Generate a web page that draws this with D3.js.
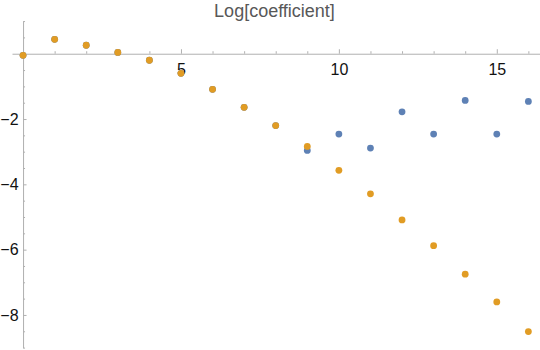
<!DOCTYPE html>
<html>
<head>
<meta charset="utf-8">
<script src="https://cdn.jsdelivr.net/npm/d3@7"></script>
<style>
body { margin: 0; background: #fff; }
svg { display: block; font-family: "Liberation Sans", Arial, sans-serif; }
</style>
</head>
<body>
<div class="chart"></div>
<script>
// data
const xs = [0, 1, 2, 3, 4, 5, 6, 7, 8, 9, 10, 11, 12, 13, 14, 15, 16];
const blueVals = [-0.05, 0.44, 0.26, 0.04, -0.2, -0.6, -1.09, -1.64, -2.2, -2.96, -2.46, -2.89, -1.78, -2.46, -1.43, -2.46, -1.46];
const orangeVals = [-0.05, 0.44, 0.26, 0.04, -0.2, -0.6, -1.09, -1.64, -2.2, -2.84, -3.57, -4.29, -5.09, -5.88, -6.75, -7.6, -8.51];
const xMajor = [5, 10, 15];
const yMajor = [-2, -4, -6, -8];
const title = 'Log[coefficient]';

const width = 540, height = 350;

const svg = d3.select('.chart')
    .append('svg')
    .attr('width', width)
    .attr('height', height)

const xScale = d3.scaleLinear()
    .domain([-0.35, 16.4])
    .range([12, 541])

const yScale = d3.scaleLinear()
    .domain([0.99, -9])
    .range([21.4, 347.6])

const axisColor = '#b0b0b0';

// x axis on y = 0, ticks pointing up, labels below
const xMinor = d3.range(1, 17).filter(d => !xMajor.includes(d));
svg.append('g')
    .attr('transform', `translate(0,${yScale(0)})`)
    .call(d3.axisBottom(xScale).tickValues(xMinor).tickSizeInner(-2.5).tickSizeOuter(0).tickFormat(''))
    .call(g => g.select('.domain').attr('stroke', axisColor))
    .call(g => g.selectAll('.tick line').attr('stroke', axisColor));

svg.append('g')
    .attr('transform', `translate(0,${yScale(0)})`)
    .call(d3.axisBottom(xScale).tickValues(xMajor).tickSizeInner(-4.5).tickSizeOuter(0).tickPadding(9.5))
    .call(g => g.select('.domain').remove())
    .call(g => g.selectAll('.tick line').attr('stroke', axisColor))
    .call(g => g.selectAll('.tick text')
        .attr('font-size', 16)
        .attr('font-family', '"Liberation Sans", Arial, sans-serif')
        .attr('fill', '#111'));

// y axis on x = 0, ticks pointing right, labels left
const yMinor = d3.range(-9, 1.01, 0.5).filter(d => !yMajor.includes(d) && d !== 0);
svg.append('g')
    .attr('transform', `translate(${xScale(0)},0)`)
    .call(d3.axisLeft(yScale).tickValues(yMinor).tickSizeInner(-2).tickSizeOuter(0).tickFormat(''))
    .call(g => g.select('.domain').attr('stroke', axisColor))
    .call(g => g.selectAll('.tick line').attr('stroke', axisColor));

svg.append('g')
    .attr('transform', `translate(${xScale(0)},0)`)
    .call(d3.axisLeft(yScale).tickValues(yMajor).tickSizeInner(-3.5).tickSizeOuter(0).tickPadding(4.5)
        .tickFormat(d => '\u2212' + Math.abs(d)))
    .call(g => g.select('.domain').remove())
    .call(g => g.selectAll('.tick line').attr('stroke', axisColor))
    .call(g => g.selectAll('.tick text')
        .attr('font-size', 16)
        .attr('font-family', '"Liberation Sans", Arial, sans-serif')
        .attr('fill', '#111'));

// title
svg.append('text')
    .attr('x', 274.5)
    .attr('y', 17)
    .attr('text-anchor', 'middle')
    .attr('font-size', 18)
    .attr('fill', '#585858')
    .text(title);

// points
const series = [
    {vals: blueVals, color: '#5e81b5'},
    {vals: orangeVals, color: '#e19c24'}
];

series.forEach(s => {
    svg.append('g')
        .selectAll('circle')
        .data(xs.map((x, i) => ({x: x, y: s.vals[i]})))
        .enter()
        .append('circle')
        .attr('cx', d => xScale(d.x))
        .attr('cy', d => yScale(d.y))
        .attr('r', 3.4)
        .attr('fill', s.color)
});
</script>
</body>
</html>
